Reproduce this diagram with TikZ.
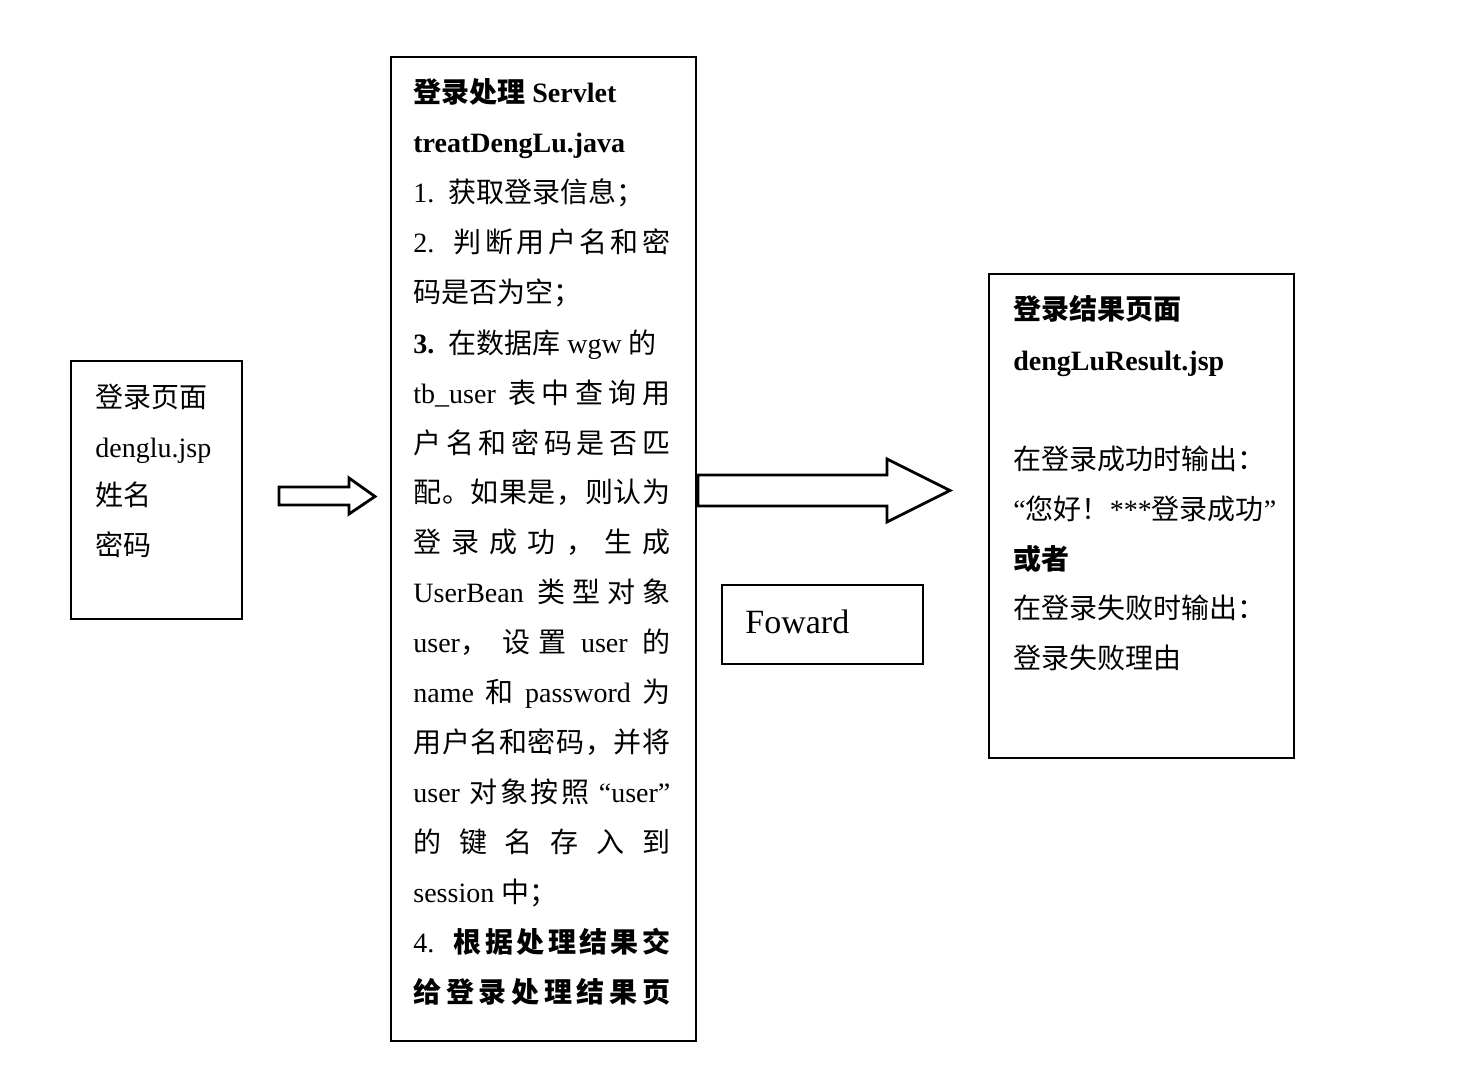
\documentclass[tikz,border=0pt]{standalone}
\usepackage{fontspec}
\setmainfont{Liberation Serif}
\newfontfamily\cjkfont{Noto Sans CJK SC}
\XeTeXinterchartokenstate=1
\newXeTeXintercharclass\CJKcls
\makeatletter
\count@="4E00
\loop\XeTeXcharclass\count@=\CJKcls\advance\count@ 1\relax\ifnum\count@<"A000\repeat
\count@="3000
\loop\XeTeXcharclass\count@=\CJKcls\advance\count@ 1\relax\ifnum\count@<"3040\repeat
\count@="FF00
\loop\XeTeXcharclass\count@=\CJKcls\advance\count@ 1\relax\ifnum\count@<"FF60\repeat
\makeatother
\XeTeXinterchartoks 0 \CJKcls={\begingroup\cjkfont}
\XeTeXinterchartoks 4095 \CJKcls={\begingroup\cjkfont}
\XeTeXinterchartoks \CJKcls 0={\endgroup}
\XeTeXinterchartoks \CJKcls 4095={\endgroup}
\XeTeXinterchartoks \CJKcls \CJKcls={\hskip0pt plus 1fil\relax}
\newcommand\jl[1]{\makebox[128.5pt][s]{\spaceskip=3.5pt plus 1fil\relax #1}}
\begin{document}
\begin{tikzpicture}[x=0.5pt,y=-0.5pt,
  box/.style={draw=black,line width=1.2pt,fill=none,anchor=north west,inner sep=0pt},
  tx/.style={anchor=base west,inner sep=0pt,font=\fontsize{14pt}{17pt}\selectfont},
  blockarrow/.style={draw=black,line width=1.4pt,fill=white,line join=miter}]
\useasboundingbox (0,0) rectangle (1467,1075);
% boxes
\node[box,minimum width=85.5pt,minimum height=129pt] (b1) at (70,360) {};
\node[box,minimum width=152.5pt,minimum height=492pt] (b2) at (390,56) {};
\node[box,minimum width=152.5pt,minimum height=242pt] (b3) at (988,273) {};
\node[box,minimum width=100.5pt,minimum height=39.5pt] (fw) at (721,584) {};
\node[tx,font=\fontsize{17pt}{20pt}\selectfont] (fwt) at (745,633) {Foward};
% block arrows
\draw[blockarrow] (279,487) -- (349,487) -- (349,478) -- (375,496.5) -- (349,514) -- (349,505) -- (279,505) -- cycle;
\draw[blockarrow] (698,475) -- (887,475) -- (887,459) -- (950,490.5) -- (887,522) -- (887,506) -- (698,506) -- cycle;
% box 1 text
\node[tx] (a1) at (95,407) {登录页面};
\node[tx] (a2) at (95,457) {denglu.jsp};
\node[tx] (a3) at (95,505) {姓名};
\node[tx] (a4) at (95,555) {密码};
% box 2 text
\node[tx] (c0) at (413,103) {\bfseries 登录处理 Servlet};
\node[tx] (c1) at (413,153) {\bfseries treatDengLu.java};
\node[tx] (c2) at (413,203) {1.\hspace{7pt}获取登录信息；};
\node[tx] (c3) at (413,253) {\jl{2. 判断用户名和密}};
\node[tx] (c4) at (413,303) {码是否为空；};
\node[tx] (c5) at (413,353) {\textbf{3.}\hspace{7pt}在数据库 wgw 的};
\node[tx] (c6) at (413,403) {\jl{tb\_user 表中查询用}};
\node[tx] (c7) at (413,453) {\jl{户名和密码是否匹}};
\node[tx] (c8) at (413,502) {\jl{配。如果是，则认为}};
\node[tx] (c9) at (413,552) {\jl{登录成功，生成}};
\node[tx] (c10) at (413,602) {\jl{UserBean 类型对象}};
\node[tx] (c11) at (413,652) {\jl{user， 设置 user 的}};
\node[tx] (c12) at (413,702) {\jl{name 和 password 为}};
\node[tx] (c13) at (413,752) {\jl{用户名和密码，并将}};
\node[tx] (c14) at (413,802) {\jl{user 对象按照 “user”}};
\node[tx] (c15) at (413,852) {\jl{的键名存入到}};
\node[tx] (c16) at (413,902) {session 中；};
\node[tx] (c17) at (413,952) {\jl{4. {\bfseries 根据处理结果交}}};
\node[tx] (c18) at (413,1002) {\jl{\bfseries 给登录处理结果页}};
% box 3 text
\node[tx] (d0) at (1013,320) {\bfseries 登录结果页面};
\node[tx] (d1) at (1013,370) {\bfseries dengLuResult.jsp};
\node[tx] (d2) at (1013,469) {在登录成功时输出：};
\node[tx] (d3) at (1013,519) {“您好！***登录成功”};
\node[tx] (d4) at (1013,569) {\bfseries 或者};
\node[tx] (d5) at (1013,618) {在登录失败时输出：};
\node[tx] (d6) at (1013,668) {登录失败理由};
\end{tikzpicture}
\end{document}
